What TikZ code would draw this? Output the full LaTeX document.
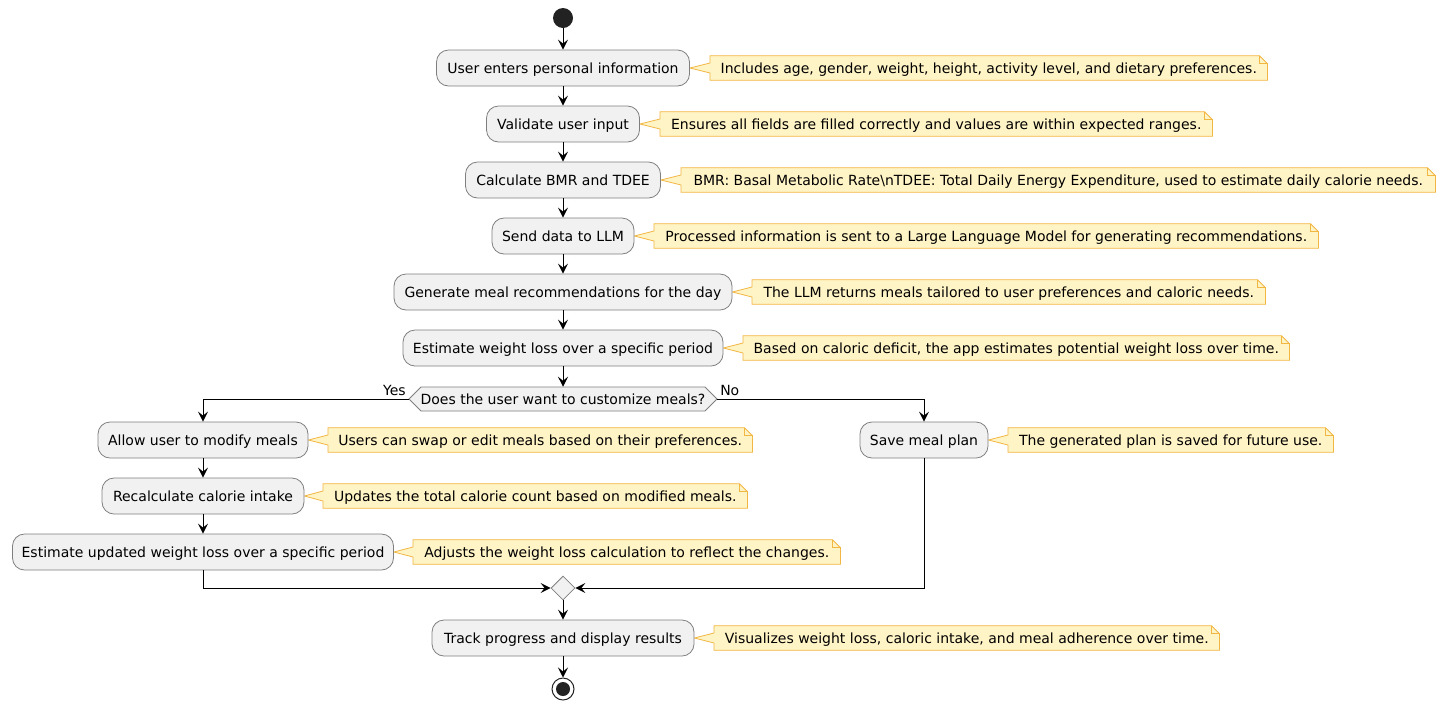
\documentclass[tikz,border=0pt]{standalone}
\usepackage{fontspec}
\setmainfont{DejaVu Sans}
\usetikzlibrary{shapes.geometric,arrows.meta,calc,backgrounds}
\definecolor{actfill}{HTML}{F1F1F1}
\definecolor{actdraw}{HTML}{7F7F7F}
\definecolor{notefill}{HTML}{FFF4C6}
\definecolor{notedraw}{HTML}{F2B643}
\definecolor{startc}{HTML}{222222}
\newcommand\notebox[2]{%
  \begin{scope}[on background layer]
  \filldraw[notedraw, fill=notefill, line width=0.6pt, line join=miter]
    (#1.south west) -- ($(#1.west)+(0,5)$) -- (#2.east) -- ($(#1.west)+(0,-5)$)
    -- (#1.north west) -- ($(#1.north east)+(-8,0)$) -- ($(#1.north east)+(0,8)$)
    -- (#1.south east) -- cycle;
  \draw[notedraw, line width=0.6pt] ($(#1.north east)+(-8,0)$) -- ($(#1.north east)+(-8,8)$) -- ($(#1.north east)+(0,8)$);
  \end{scope}}
\begin{document}
\begin{tikzpicture}[x=0.75pt,y=-0.75pt,
  font=\fontsize{10.5}{12}\selectfont,
  txt/.style={text height=9pt, text depth=1.3pt},
  act/.style={txt, draw=actdraw, fill=actfill, rounded corners=9pt, minimum height=27pt,
    minimum width=#1*0.75pt, inner sep=0pt, line width=0.6pt},
  note/.style={txt, anchor=west, minimum width=#1*0.75pt, minimum height=18pt, inner sep=0pt},
  flow/.style={draw=black, line width=0.75pt, -{Stealth[length=7.5pt,width=7.5pt,inset=3pt]}},
  line/.style={draw=black, line width=0.75pt}]
\useasboundingbox (0,0) rectangle (1445,708);

\node[circle, fill=startc, minimum size=15pt, inner sep=0pt] (st) at (563,18) {};

\node[act=253] (a1) at (563,68) {User enters personal information};
\node[note=557] (n1) at (710,68) {Includes age, gender, weight, height, activity level, and dietary preferences.};
\notebox{n1}{a1}

\node[act=153] (a2) at (563,124) {Validate user input};
\node[note=552] (n2) at (660,124) {Ensures all fields are filled correctly and values are within expected ranges.};
\notebox{n2}{a2}

\node[act=195] (a3) at (563,180) {Calculate BMR and TDEE};
\node[note=754] (n3) at (681,180) {BMR: Basal Metabolic Rate\textbackslash nTDEE: Total Daily Energy Expenditure, used to estimate daily calorie needs.};
\notebox{n3}{a3}

\node[act=142] (a4) at (563,236) {Send data to LLM};
\node[note=664] (n4) at (654,236) {Processed information is sent to a Large Language Model for generating recommendations.};
\notebox{n4}{a4}

\node[act=338] (a5) at (563,292) {Generate meal recommendations for the day};
\node[note=513] (n5) at (752,292) {The LLM returns meals tailored to user preferences and caloric needs.};
\notebox{n5}{a5}

\node[act=320] (a6) at (563,348) {Estimate weight loss over a specific period};
\node[note=546] (n6) at (743,348) {Based on caloric deficit, the app estimates potential weight loss over time.};
\notebox{n6}{a6}

\node[txt, minimum height=18pt, minimum width=216pt, inner sep=0pt] (dec) at (563,399) {Does the user want to customize meals?};
\coordinate (decL) at (409,399);
\coordinate (decR) at (717,399);
\begin{scope}[on background layer]
\filldraw[draw=actdraw, fill=actfill, line width=0.6pt] (decL) -- (421,387) -- (705,387) -- (decR) -- (705,411) -- (421,411) -- cycle;
\end{scope}
\node[anchor=base east, inner sep=0pt] (yes) at (406,395) {Yes};
\node[anchor=base west, inner sep=0pt] (no) at (720,395) {No};

\node[act=210] (a7) at (203,440) {Allow user to modify meals};
\node[note=424] (n7) at (328,440) {Users can swap or edit meals based on their preferences.};
\notebox{n7}{a7}

\node[act=202] (a8) at (203,496) {Recalculate calorie intake};
\node[note=424] (n8) at (323,496) {Updates the total calorie count based on modified meals.};
\notebox{n8}{a8}

\node[act=381] (a9) at (203,552) {Estimate updated weight loss over a specific period};
\node[note=427] (n9) at (413,552) {Adjusts the weight loss calculation to reflect the changes.};
\notebox{n9}{a9}

\node[act=128] (a10) at (924,440) {Save meal plan};
\node[note=325] (n10) at (1008,440) {The generated plan is saved for future use.};
\notebox{n10}{a10}

\node[diamond, draw=actdraw, fill=actfill, line width=0.6pt, minimum width=18pt, minimum height=18pt, inner sep=0pt] (m) at (563,588) {};

\node[act=262] (a11) at (563,638) {Track progress and display results};
\node[note=505] (n11) at (714,638) {Visualizes weight loss, caloric intake, and meal adherence over time.};
\notebox{n11}{a11}

\node[circle, draw=startc, line width=0.75pt, fill=white, minimum size=16.5pt, inner sep=0pt] (en) at (563,689) {};
\fill[startc] (en.center) circle (7);

\path[flow] (st) -- (a1);
\path[flow] (a1) -- (a2);
\path[flow] (a2) -- (a3);
\path[flow] (a3) -- (a4);
\path[flow] (a4) -- (a5);
\path[flow] (a5) -- (a6);
\path[flow] (a6) -- (dec.north);
\path[flow] (decL) -| (a7.north);
\path[flow] (decR) -| (a10.north);
\path[flow] (a7) -- (a8);
\path[flow] (a8) -- (a9);
\path[flow] (a9.south) |- (m.west);
\path[flow] (a10.south) |- (m.east);
\path[flow] (m) -- (a11);
\path[flow] (a11) -- (en);
\end{tikzpicture}
\end{document}
